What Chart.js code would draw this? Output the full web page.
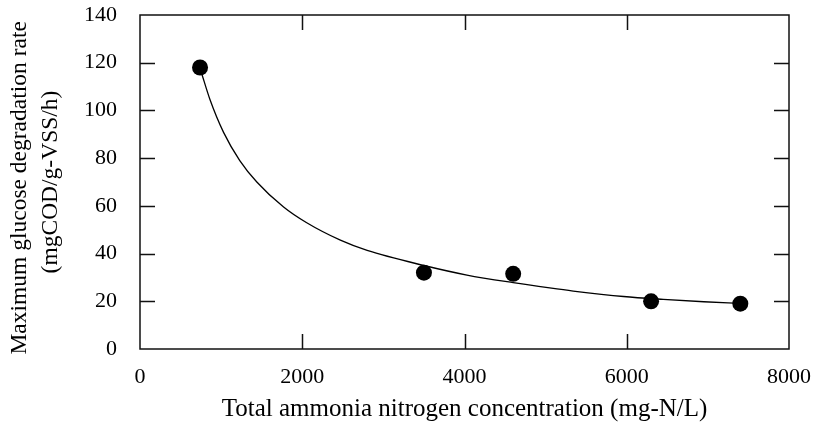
<!DOCTYPE html>
<html lang="en">
<head>
  <meta charset="UTF-8">
  <title>Maximum glucose degradation rate vs ammonia</title>
  <script src="https://cdn.jsdelivr.net/npm/chart.js"></script>
  <style>
    html, body { margin: 0; padding: 0; background: #fff; }
    #wrap { width: 813px; height: 423px; }
  </style>
</head>
<body>
  <div id="wrap"><canvas id="chart" width="813" height="423"></canvas></div>

  <script>
    // measured points
    const ammoniaX = [740, 3500, 4600, 6300, 7400];
    const rateY = [118, 32, 31.5, 20, 19];

    // fitted curve
    const curveX = [760, 860, 1030, 1230, 1440, 1770, 2050, 2470, 2800, 3500, 4030, 4600, 5050, 5340, 5960, 6450, 6950, 7400];
    const curveY = [115.5, 104.8, 90.8, 79, 70, 59.5, 53, 45.6, 41.3, 35, 31, 27.8, 25.6, 24.3, 22, 20.8, 19.8, 19.1];

    const xTicks = [0, 2000, 4000, 6000, 8000];
    const yTicks = [0, 20, 40, 60, 80, 100, 120, 140];

    const serif = 'Liberation Serif, Times New Roman, serif';
    Chart.defaults.font.family = serif;
    Chart.defaults.color = '#000';

    // frame + inward ticks on all four sides
    const frameTicks = {
      id: 'frameTicks',
      afterDraw(chart) {
        const { ctx, chartArea: a, scales: { x, y } } = chart;
        const len = 15;
        ctx.save();
        ctx.strokeStyle = '#111';
        ctx.lineWidth = 1.5;
        ctx.strokeRect(a.left, a.top, a.right - a.left, a.bottom - a.top);
        ctx.beginPath();
        xTicks.slice(1, -1).forEach(v => {
          const px = Math.round(x.getPixelForValue(v)) + 0.5;
          ctx.moveTo(px, a.bottom); ctx.lineTo(px, a.bottom - len);
          ctx.moveTo(px, a.top); ctx.lineTo(px, a.top + len);
        });
        yTicks.slice(1, -1).forEach(v => {
          const py = Math.round(y.getPixelForValue(v)) + 0.5;
          ctx.moveTo(a.left, py); ctx.lineTo(a.left + len, py);
          ctx.moveTo(a.right, py); ctx.lineTo(a.right - len, py);
        });
        ctx.stroke();
        ctx.restore();
      }
    };

    new Chart(document.getElementById('chart'), {
      type: 'scatter',
      data: {
        datasets: [
          {
            label: 'fit',
            data: curveX.map((v, i) => ({ x: v, y: curveY[i] })),
            showLine: true,
            borderColor: '#000',
            borderWidth: 1.3,
            pointRadius: 0,
            cubicInterpolationMode: 'monotone',
            order: 2
          },
          {
            label: 'data',
            data: ammoniaX.map((v, i) => ({ x: v, y: rateY[i] })),
            backgroundColor: '#000',
            borderWidth: 0,
            pointRadius: 8,
            pointHoverRadius: 8,
            order: 1
          }
        ]
      },
      options: {
        responsive: false,
        animation: false,
        layout: { padding: { top: 15, right: 24, left: 0, bottom: 0 } },
        plugins: { legend: { display: false }, tooltip: { enabled: false } },
        scales: {
          x: {
            type: 'linear',
            min: 0, max: 8000,
            afterBuildTicks: s => { s.ticks = xTicks.map(v => ({ value: v })); },
            grid: { display: false, drawTicks: false },
            border: { display: false },
            ticks: { font: { size: 22 }, padding: 15, maxRotation: 0, callback: v => String(v) },
            title: {
              display: true,
              text: 'Total ammonia nitrogen concentration (mg-N/L)',
              font: { size: 25 },
              padding: { top: 4, bottom: -1 }
            },
            afterFit: s => { s.height = 74; s.paddingLeft = 0; s.paddingRight = 0; }
          },
          y: {
            min: 0, max: 140,
            afterBuildTicks: s => { s.ticks = yTicks.map(v => ({ value: v })); },
            grid: { display: false, drawTicks: false },
            border: { display: false },
            ticks: { font: { size: 22 }, padding: 23, callback: v => String(v) },
            title: {
              display: true,
              text: ['Maximum glucose degradation rate\u00a0\u00a0', '(mgCOD/g-VSS/h)'],
              font: { size: 23.5, lineHeight: 1.3 },
              padding: { top: 5, bottom: 0 }
            },
            afterFit: s => { s.width = 140; s.paddingTop = 0; s.paddingBottom = 0; }
          }
        }
      },
      plugins: [frameTicks]
    });
  </script>
</body>
</html>
